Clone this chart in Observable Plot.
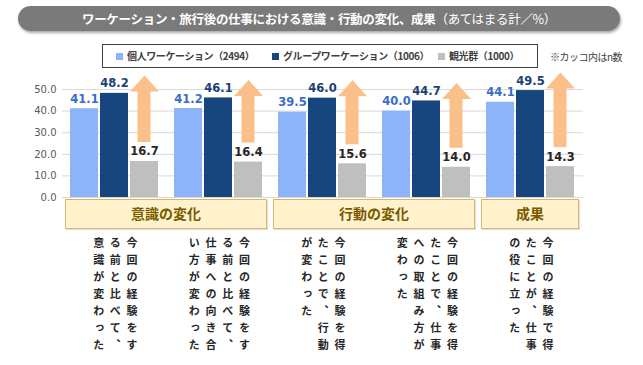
<!DOCTYPE html>
<html><head><meta charset="utf-8">
<script src="https://cdn.jsdelivr.net/npm/d3@7"></script>
<script src="https://cdn.jsdelivr.net/npm/@observablehq/plot@0.6"></script>
<style>
body{margin:0;background:#fff;font-family:"Noto Sans CJK JP","Noto Sans",sans-serif;}
#wrap{position:relative;width:643px;height:365px;overflow:hidden;}
#title{position:absolute;left:18px;top:6px;width:602px;height:25px;border-radius:12.5px;background:#7a7a7a;color:#fff;font-size:12.5px;font-weight:bold;line-height:25px;text-align:center;box-shadow:1px 2px 3px rgba(0,0,0,0.35);letter-spacing:-0.3px;z-index:2}
#title span{font-weight:normal}
#legend{position:absolute;left:102px;top:44px;width:436px;height:24px;border:1px solid #3f3f3f;box-sizing:border-box;display:flex;align-items:center;font-size:10px;color:#404040;font-weight:bold;z-index:2;background:#fff;letter-spacing:-0.4px}
#legend .it{white-space:nowrap;position:absolute;top:3px}
#legend .sq{display:inline-block;width:7px;height:7px;margin-right:4px;vertical-align:0px}
#note{position:absolute;left:550px;top:49px;font-size:10px;color:#404040;z-index:2;letter-spacing:-0.5px}
.cat{position:absolute;top:199px;height:30px;box-sizing:border-box;background:#fff2cc;border:1.5px solid #d8b860;color:#7a5a00;font-weight:bold;font-size:14px;line-height:27px;text-align:center;box-shadow:1px 1px 1px rgba(0,0,0,0.12)}
.vt{position:absolute;top:237px;height:120px;writing-mode:vertical-rl;font-size:11px;font-weight:bold;letter-spacing:6px;line-height:16.7px;color:#262626;transform:translateX(-50%)}
</style></head>
<body>
<div id="wrap">
  <div id="title"></div>
  <div id="legend"></div>
  <div id="note"></div>
</div>
<script>
const titleMain = "ワーケーション・旅行後の仕事における意識・行動の変化、成果";
const titleSub = "（あてはまる計／%）";
const noteText = "※カッコ内はn数";
const series = ["個人ワーケーション", "グループワーケーション", "観光群"];
const seriesN = ["（2494）", "（1006）", "（1000）"];
const barColors = ["#8db3fa", "#17467f", "#bfbfbf"];
const labelColors = ["#3a6cc9", "#1d3f78", "#262626"];
const groups = [
  "今回の経験をする前と比べて、意識が変わった",
  "今回の経験をする前と比べて、仕事への向き合い方が変わった",
  "今回の経験を得たことで、行動が変わった",
  "今回の経験を得たことで、仕事への取組み方が変わった",
  "今回の経験で得たことが、仕事の役に立った"
];
const individual = [41.1, 41.2, 39.5, 40.0, 44.1];
const groupWork = [48.2, 46.1, 46.0, 44.7, 49.5];
const tourism = [16.7, 16.4, 15.6, 14.0, 14.3];
const categories = ["意識の変化", "行動の変化", "成果"];
const categoryOf = [0, 0, 1, 1, 2];
const yTicks = [0, 10, 20, 30, 40, 50];

const values = [individual, groupWork, tourism];
const data = [];
groups.forEach((g, i) => series.forEach((s, j) => data.push({group: g, series: s, value: values[j][i]})));
const arrows = groups.map((g, i) => ({group: g, from: tourism[i], to: groupWork[i]}));
const arrowColor = "#fbc08a";
const head = {draw(ctx) { ctx.moveTo(-14.5, -2); ctx.lineTo(0, -18); ctx.lineTo(14.5, -2); ctx.closePath(); }};

document.getElementById("title").innerHTML = titleMain + "<span>" + titleSub + "</span>";
document.getElementById("note").textContent = noteText;
const legendX = [13, 169, 335];
document.getElementById("legend").innerHTML = series.map((s, j) =>
  `<span class="it" style="left:${legendX[j]}px"><span class="sq" style="background:${barColors[j]}"></span>${s}${seriesN[j]}</span>`).join("");

const plot = Plot.plot({
  width: 643, height: 365,
  marginLeft: 63, marginRight: 61, marginTop: 89, marginBottom: 168,
  style: {fontFamily: "DejaVu Sans, Verdana, sans-serif", background: "transparent"},
  fx: {domain: groups, paddingInner: 0.057, paddingOuter: 0, axis: null, label: null},
  x: {domain: series, paddingInner: 0.065, paddingOuter: 0.13, axis: null, label: null},
  y: {domain: [0, 50], ticks: yTicks, tickFormat: d => d.toFixed(1), tickSize: 0, tickPadding: 9, label: null},
  color: {domain: series, range: barColors},
  marks: [
    Plot.ruleY(yTicks, {stroke: "#d9d9d9", strokeWidth: 1, insetLeft: -3, insetRight: -4}),
    Plot.barY(data, {fx: "group", x: "series", y: "value", fill: "series"}),
    Plot.barY(arrows, {fx: "group", x: () => series[2], y1: "from", y2: "to", insetBottom: 19, insetTop: -3, insetLeft: 7.5, insetRight: 7.5, fill: arrowColor}),
    Plot.dot(arrows, {fx: "group", x: () => series[2], y: "to", symbol: head, r: 10, fill: arrowColor, stroke: "none"}),
    ...series.map((s, j) => Plot.text(data.filter(d => d.series === s), {
      fx: "group", x: "series", y: "value", text: d => d.value.toFixed(1),
      lineAnchor: "bottom", dy: -6, fill: labelColors[j], fontSize: 11.5, fontWeight: "bold"
    }))
  ]
});
plot.style.position = "absolute";
plot.style.left = "0px";
plot.style.top = "0px";
plot.querySelectorAll("g[aria-label='y-axis tick label']").forEach(e => { e.setAttribute("fill", "#595959"); e.setAttribute("font-size", "10"); });
const wrap = document.getElementById("wrap");
wrap.appendChild(plot);

const fx = plot.scale("fx");
const bw = fx.bandwidth;
categories.forEach((c, k) => {
  const idx = categoryOf.map((v, i) => v === k ? i : -1).filter(i => i >= 0);
  const left = fx.apply(groups[idx[0]]);
  const right = fx.apply(groups[idx[idx.length - 1]]) + bw;
  const div = document.createElement("div");
  div.className = "cat";
  div.style.left = left + "px";
  div.style.width = (right - left) + "px";
  div.textContent = c;
  wrap.appendChild(div);
});
groups.forEach(g => {
  const div = document.createElement("div");
  div.className = "vt";
  div.style.left = (fx.apply(g) + bw / 2 + 1) + "px";
  div.textContent = g;
  wrap.appendChild(div);
});
</script>
</body></html>
